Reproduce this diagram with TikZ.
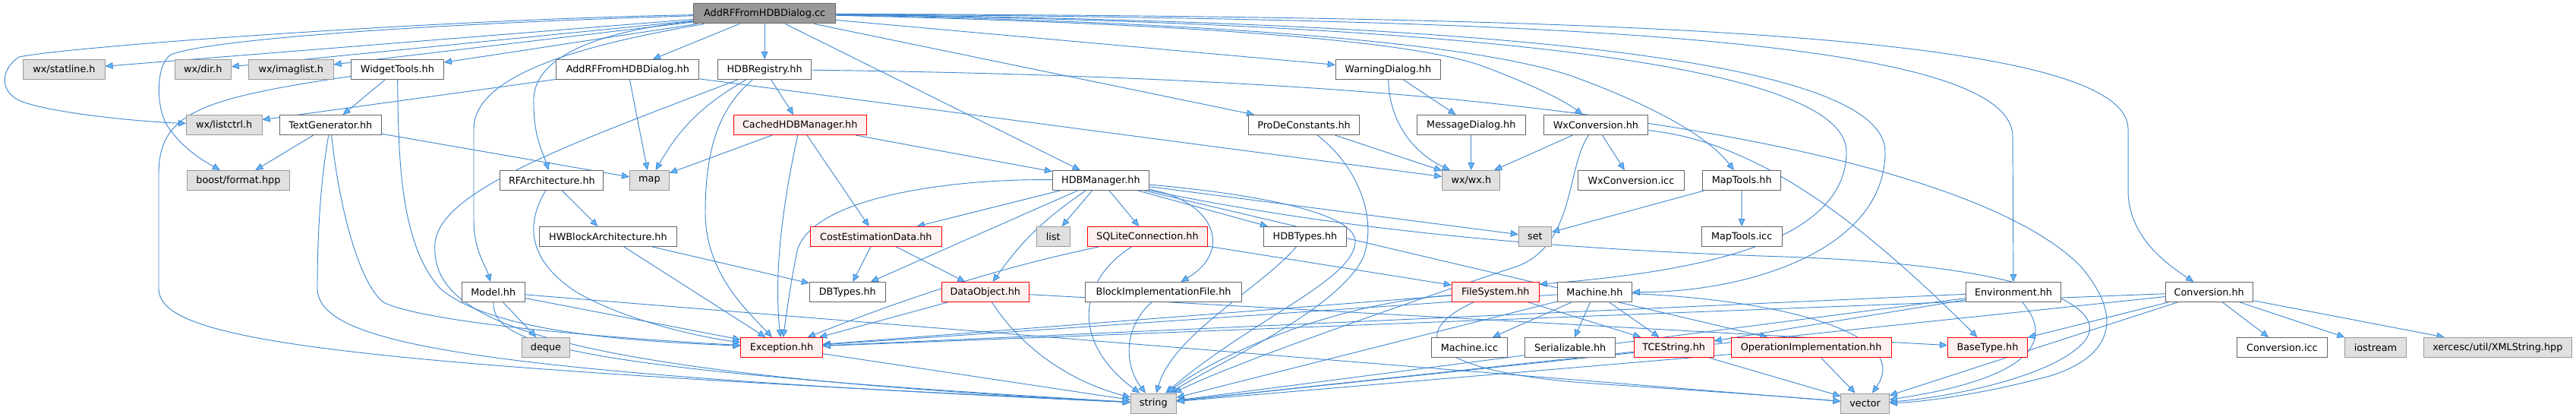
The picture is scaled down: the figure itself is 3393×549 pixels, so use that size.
\documentclass[tikz,border=0pt]{standalone}
\usepackage{fontspec}
\setmainfont{DejaVu Sans}
\usetikzlibrary{arrows.meta}
\definecolor{edgec}{HTML}{4289D0}
\definecolor{arrowc}{HTML}{63B8FF}
\definecolor{bordgray}{HTML}{666666}
\definecolor{extbord}{HTML}{999999}
\definecolor{extfill}{HTML}{E0E0E0}
\definecolor{rootfill}{HTML}{999999}
\definecolor{truncfill}{HTML}{FFF0F0}
\pgfdeclarelayer{bg}
\pgfsetlayers{bg,main}
\tikzset{
 nd/.style={draw=bordgray, fill=white, line width=0.75pt, minimum height=26*0.75pt, inner sep=0pt, font=\fontsize{9.6pt}{11pt}\selectfont},
 ext/.style={nd, draw=extbord, fill=extfill},
 trunc/.style={nd, draw=red, fill=truncfill},
 rootnd/.style={nd, fill=rootfill},
 wd/.style={minimum width=#1*0.75pt},
 ed/.style={draw=edgec, line width=0.7pt, -{Triangle[length=7.5pt,width=6.5pt,fill=arrowc]}},
}
\begin{document}
\begin{tikzpicture}[x=0.75pt,y=-0.75pt]
\useasboundingbox (0,0) rectangle (3393,549);
% row 0
\node[rootnd, wd=187.6] (cc) at (1007.1,18) {AddRFFromHDBDialog.cc};
% row 1
\node[ext, wd=107.2] (statline) at (84.5,91.5) {wx/statline.h};
\node[ext, wd=74.2] (dir) at (267.2,91.5) {wx/dir.h};
\node[ext, wd=111.6] (imaglist) at (383.3,91.5) {wx/imaglist.h};
\node[nd, wd=122] (widget) at (523.4,91.5) {WidgetTools.hh};
\node[nd, wd=188.3] (rfhh) at (826.8,91.5) {AddRFFromHDBDialog.hh};
\node[nd, wd=123.6] (hdbreg) at (1007.1,91.5) {HDBRegistry.hh};
\node[nd, wd=138.2] (warn) at (1828.3,91.5) {WarningDialog.hh};
% row 2
\node[ext, wd=99.6] (listctrl) at (295.2,164.5) {wx/listctrl.h};
\node[nd, wd=134.1] (textgen) at (435.3,164.5) {TextGenerator.hh};
\node[trunc, wd=174.7] (cached) at (1053.7,164.5) {CachedHDBManager.hh};
\node[nd, wd=146.7] (prode) at (1717.5,164.5) {ProDeConstants.hh};
\node[nd, wd=143.3] (msg) at (1937.8,164.5) {MessageDialog.hh};
\node[nd, wd=137.1] (wxconv) at (2101.9,164.5) {WxConversion.hh};
% row 3
\node[ext, wd=134.9] (boost) at (313.9,237.5) {boost/format.hpp};
\node[nd, wd=136] (rfarch) at (726.9,237.5) {RFArchitecture.hh};
\node[ext, wd=52] (mp) at (855.4,237.5) {map};
\node[nd, wd=126.9] (hdbman) at (1449.9,237.5) {HDBManager.hh};
\node[ext, wd=76.3] (wxh) at (1937.8,237.5) {wx/wx.h};
\node[nd, wd=139.2] (wxconvicc) at (2148.4,237.5) {WxConversion.icc};
\node[nd, wd=103.3] (maptools) at (2294.2,237.5) {MapTools.hh};
% row 4
\node[nd, wd=180.7] (hwblock) at (800.9,311.5) {HWBlockArchitecture.hh};
\node[trunc, wd=172.5] (costest) at (1153.8,311.5) {CostEstimationData.hh};
\node[ext, wd=43.6] (lst) at (1387.2,311.5) {list};
\node[trunc, wd=158.1] (sqlite) at (1511.4,311.5) {SQLiteConnection.hh};
\node[nd, wd=108.8] (hdbtypes) at (1719,311.5) {HDBTypes.hh};
\node[ext, wd=43.2] (st) at (2021.9,311.5) {set};
\node[nd, wd=106.1] (maptoolsicc) at (2294.1,311.5) {MapTools.icc};
% row 5
\node[nd, wd=82.9] (model) at (649.8,384.5) {Model.hh};
\node[nd, wd=99.8] (dbtypes) at (1116.3,384.5) {DBTypes.hh};
\node[trunc, wd=114.9] (dataobj) at (1297.8,384.5) {DataObject.hh};
\node[nd, wd=206.1] (blockimpl) at (1532.5,384.5) {BlockImplementationFile.hh};
\node[trunc, wd=114.9] (filesys) at (1969.8,384.5) {FileSystem.hh};
\node[nd, wd=97.8] (machine) at (2100.4,384.5) {Machine.hh};
\node[nd, wd=125.4] (env) at (2652,384.5) {Environment.hh};
\node[nd, wd=115] (conv) at (2909.7,384.5) {Conversion.hh};
% row 6
\node[ext, wd=63.6] (deque) at (719,457.5) {deque};
\node[trunc, wd=107.2] (exc) at (1029.5,457.5) {Exception.hh};
\node[nd, wd=99.2] (machineicc) at (1935.4,457.5) {Machine.icc};
\node[nd, wd=119.2] (serial) at (2068.2,457.5) {Serializable.hh};
\node[trunc, wd=104.9] (tcestr) at (2204.7,457.5) {TCEString.hh};
\node[trunc, wd=211.2] (opimpl) at (2385.6,457.5) {OperationImplementation.hh};
\node[trunc, wd=105] (basetype) at (2617.9,457.5) {BaseType.hh};
\node[nd, wd=118.4] (convicc) at (3005.9,457.5) {Conversion.icc};
\node[ext, wd=80.5] (iostream) at (3128.9,457.5) {iostream};
\node[ext, wd=195.1] (xerces) at (3289.8,457.5) {xercesc/util/XMLString.hpp};
% row 7
\node[ext, wd=60] (str) at (1519.3,531) {string};
\node[ext, wd=63.3] (vec) at (2456.6,531) {vector};

\begin{pgfonlayer}{bg}
\fill[white] (0,0) rectangle (3393,549);
% from root
\draw[ed] (cc) -- (statline);
\draw[ed] (cc) -- (dir);
\draw[ed] (cc) -- (imaglist);
\draw[ed] (cc) -- (widget);
\draw[ed] (cc) .. controls (600,25) and (100,60) .. (25,75) .. controls (0,92) and (0,120) .. (25,132) .. controls (60,148) and (180,160) .. (listctrl);
\draw[ed] (cc) .. controls (600,30) and (280,50) .. (225,72) .. controls (205,85) and (205,140) .. (220,165) .. controls (240,195) and (265,210) .. (boost);
\draw[ed] (cc) -- (rfhh);
\draw[ed] (cc) -- (hdbreg);
\draw[ed] (cc) .. controls (760,60) and (624,100) .. (624,170) -- (624,290) .. controls (624,330) and (640,350) .. (model);
\draw[ed] (cc) .. controls (800,40) and (705,70) .. (703,130) .. controls (702,180) and (715,200) .. (rfarch);
\draw[ed] (cc) -- (hdbman);
\draw[ed] (cc) -- (prode);
\draw[ed] (cc) -- (warn);
\draw[ed] (cc) .. controls (1600,32) and (1860,55) .. (1950,86) .. controls (2015,110) and (2060,132) .. (wxconv);
\draw[ed] (cc) .. controls (1650,30) and (1950,60) .. (2070,100) .. controls (2180,140) and (2250,180) .. (maptools);
\draw[ed] (cc) .. controls (1900,30) and (2432,80) .. (2432,200) .. controls (2432,330) and (2200,360) .. (filesys.10);
\draw[ed] (cc) .. controls (1900,28) and (2483,70) .. (2483,200) .. controls (2483,330) and (2300,385) .. (machine);
\draw[ed] (cc) .. controls (2000,25) and (2651,45) .. (2651,180) -- (env);
\draw[ed] (cc) .. controls (2100,22) and (2803,40) .. (2803,170) -- (2803,250) .. controls (2803,310) and (2850,345) .. (conv);
% WidgetTools
\draw[ed] (widget) -- (textgen);
\draw[ed] (widget) .. controls (260,130) and (209,150) .. (209,230) -- (209,380) .. controls (209,450) and (450,480) .. (str);
\draw[ed] (widget) .. controls (525,200) and (525,320) .. (580,380) .. controls (650,440) and (850,450) .. (exc);
% TextGenerator
\draw[ed] (textgen) -- (boost);
\draw[ed] (textgen) -- (mp);
\draw[ed] (textgen) .. controls (420,250) and (418,330) .. (418,380) .. controls (420,450) and (600,490) .. (str);
\draw[ed] (textgen) .. controls (445,260) and (470,370) .. (505,398) .. controls (560,425) and (800,445) .. (exc);
% AddRFFromHDBDialog.hh
\draw[ed] (rfhh) -- (listctrl);
\draw[ed] (rfhh) -- (mp);
\draw[ed] (rfhh) -- (wxh);
% HDBRegistry
\draw[ed] (hdbreg) -- (cached);
\draw[ed] (hdbreg) to[bend right=15] (mp);
\draw[ed] (hdbreg) .. controls (750,190) and (580,250) .. (573,320) .. controls (566,420) and (700,490) .. (str);
\draw[ed] (hdbreg) .. controls (950,140) and (929,190) .. (929,280) .. controls (929,360) and (985,410) .. (exc);
\draw[ed] (hdbreg) .. controls (1300,95) and (1700,105) .. (2000,140) .. controls (2400,185) and (2650,260) .. (2740,350) .. controls (2800,420) and (2780,470) .. (2700,495) .. controls (2600,522) and (2520,530) .. (vec);
% CachedHDBManager
\draw[ed] (cached) -- (mp);
\draw[ed] (cached) -- (hdbman);
\draw[ed] (cached) -- (costest);
\draw[ed] (cached) .. controls (1035,250) and (1018,350) .. (exc);
% ProDeConstants, dialogs, WxConversion
\draw[ed] (prode) -- (wxh);
\draw[ed] (prode) .. controls (1790,220) and (1815,290) .. (1795,340) .. controls (1760,410) and (1600,480) .. (str);
\draw[ed] (warn) -- (msg);
\draw[ed] (warn) .. controls (1830,160) and (1860,200) .. (wxh);
\draw[ed] (msg) -- (wxh);
\draw[ed] (wxconv) -- (wxh);
\draw[ed] (wxconv) -- (wxconvicc);
\draw[ed] (wxconv) .. controls (2063,220) and (2075,320) .. (2000,350) .. controls (1850,400) and (1620,480) .. (str);
\draw[ed] (wxconv) .. controls (2300,185) and (2430,270) .. (basetype);
% RFArchitecture, HWBlock
\draw[ed] (rfarch) -- (hwblock);
\draw[ed] (rfarch) .. controls (695,290) and (690,340) .. (760,385) .. controls (830,425) and (930,445) .. (exc);
\draw[ed] (hwblock) -- (exc);
\draw[ed] (hwblock) -- (dbtypes);
% Model
\draw[ed] (model) -- (deque);
\draw[ed] (model) -- (exc);
\draw[ed] (model) .. controls (650,450) and (720,485) .. (str);
\draw[ed] (model) -- (vec);
% CostEstimationData
\draw[ed] (costest) -- (dbtypes);
\draw[ed] (costest) -- (dataobj);
% HDBManager
\draw[ed] (hdbman) -- (costest);
\draw[ed] (hdbman) -- (lst);
\draw[ed] (hdbman) -- (sqlite);
\draw[ed] (hdbman) -- (hdbtypes);
\draw[ed] (hdbman) to[bend right=10] (dataobj);
\draw[ed] (hdbman) -- (dbtypes);
\draw[ed] (hdbman) .. controls (1600,265) and (1625,330) .. (blockimpl);
\draw[ed] (hdbman) .. controls (1250,235) and (1070,260) .. (1050,330) .. controls (1040,380) and (1035,420) .. (exc);
\draw[ed] (hdbman) -- (st);
\draw[ed] (hdbman) -- (opimpl);
\draw[ed] (hdbman) .. controls (1650,255) and (1790,280) .. (1785,320) .. controls (1780,370) and (1650,420) .. (str);
\draw[ed] (hdbman) .. controls (1800,310) and (2100,330) .. (2350,338) .. controls (2700,350) and (2780,410) .. (2745,450) .. controls (2700,500) and (2550,525) .. (vec);
% MapTools
\draw[ed] (maptools) -- (maptoolsicc);
\draw[ed] (maptools) -- (st);
% SQLite, HDBTypes, DataObject, BlockImpl
\draw[ed] (sqlite) .. controls (1280,360) and (1150,410) .. (exc);
\draw[ed] (sqlite) .. controls (1420,370) and (1410,450) .. (str);
\draw[ed] (sqlite) -- (filesys);
\draw[ed] (hdbtypes) .. controls (1660,380) and (1545,440) .. (str);
\draw[ed] (dataobj) -- (exc);
\draw[ed] (dataobj) .. controls (1340,450) and (1400,500) .. (str);
\draw[ed] (dataobj) -- (basetype);
\draw[ed] (blockimpl) .. controls (1480,430) and (1480,480) .. (str);
% FileSystem
\draw[ed] (filesys) .. controls (1750,400) and (1600,470) .. (str);
\draw[ed] (filesys) -- (exc);
\draw[ed] (filesys) -- (tcestr);
\draw[ed] (filesys) .. controls (1850,440) and (1880,490) .. (2100,505) .. controls (2250,515) and (2350,522) .. (vec);
% Machine
\draw[ed] (machine) -- (machineicc);
\draw[ed] (machine) -- (serial);
\draw[ed] (machine) -- (tcestr);
\draw[ed] (machine) -- (exc);
\draw[ed] (machine) -- (str);
\draw[ed] (machine) .. controls (2350,395) and (2520,440) .. (vec);
% Environment
\draw[ed] (env) -- (exc);
\draw[ed] (env) -- (tcestr);
\draw[ed] (env) -- (str);
\draw[ed] (env) .. controls (2700,440) and (2695,495) .. (vec);
% Conversion
\draw[ed] (conv) -- (convicc);
\draw[ed] (conv) -- (iostream);
\draw[ed] (conv) -- (xerces);
\draw[ed] (conv) -- (str);
\draw[ed] (conv) -- (exc);
\draw[ed] (conv) -- (basetype);
\draw[ed] (conv) -- (vec);
% leaves
\draw[ed] (exc) -- (str);
\draw[ed] (tcestr) -- (str);
\draw[ed] (tcestr) -- (vec);
\draw[ed] (opimpl) -- (str);
\draw[ed] (opimpl) -- (vec);
\end{pgfonlayer}
\end{tikzpicture}
\end{document}
